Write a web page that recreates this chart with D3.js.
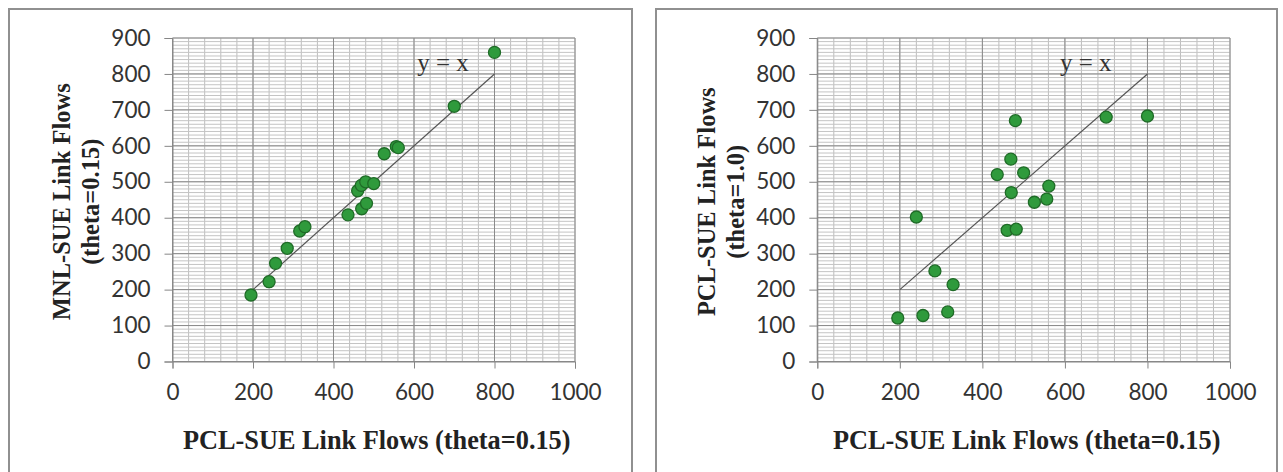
<!DOCTYPE html>
<html>
<head>
<meta charset="utf-8">
<script src="https://cdn.jsdelivr.net/npm/d3@7"></script>
<style>
  html, body { margin: 0; padding: 0; background: #fff; }
  svg { display: block; }
</style>
</head>
<body>
<svg id="chart" width="1283" height="472"></svg>
<script>
// ---- Data ----
const pclFlows015 = [195, 240, 256, 285, 316, 329, 436, 460, 469, 470, 480, 482, 500, 526, 556, 561, 700, 800];
const mnlFlows015 = [185, 222, 273, 315, 363, 375, 408, 475, 490, 425, 500, 440, 495, 578, 598, 595, 710, 860];
const pclFlows10  = [121, 402, 128, 252, 138, 214, 520, 365, 563, 470, 670, 368, 525, 443, 452, 488, 680, 683];
const refLine = [200, 800];
const xTicks = [0, 200, 400, 600, 800, 1000];
const yTicks = [0, 100, 200, 300, 400, 500, 600, 700, 800, 900];
const xTitle = "PCL-SUE Link Flows (theta=0.15)";
const yTitlesLeft = ["MNL-SUE Link Flows", "(theta=0.15)"];
const yTitlesRight = ["PCL-SUE Link Flows", "(theta=1.0)"];
const refLabel = "y = x";

const svg = d3.select("#chart");
svg.append("rect").attr("width", 1283).attr("height", 472).attr("fill", "#fff");

function panel(cfg) {
  const g = svg.append("g");
  // outer chart border
  g.append("rect")
    .attr("x", cfg.box[0]).attr("y", cfg.box[1])
    .attr("width", cfg.box[2]).attr("height", cfg.box[3])
    .attr("fill", "#fff").attr("stroke", "#909090").attr("stroke-width", 2);

  const x = d3.scaleLinear().domain([0, 1000]).range([cfg.plot[0], cfg.plot[1]]);
  const y = d3.scaleLinear().domain([0, 900]).range([cfg.plot[3], cfg.plot[2]]);

  // minor grid
  const grid = g.append("g");
  grid.selectAll("line.vminor").data(d3.range(0, 1001, 40)).join("line")
    .attr("x1", d => x(d)).attr("x2", d => x(d))
    .attr("y1", y(0)).attr("y2", y(900))
    .attr("stroke", "#bdbdbd").attr("stroke-width", 1);
  grid.selectAll("line.hminor").data(d3.range(0, 901, 10)).join("line")
    .attr("x1", x(0)).attr("x2", x(1000))
    .attr("y1", d => y(d)).attr("y2", d => y(d))
    .attr("stroke", "#c4c4c4").attr("stroke-width", 1);
  // major grid
  grid.selectAll("line.vmajor").data(xTicks).join("line")
    .attr("x1", d => x(d)).attr("x2", d => x(d))
    .attr("y1", y(0)).attr("y2", y(900))
    .attr("stroke", "#8a8a8a").attr("stroke-width", 1);
  grid.selectAll("line.hmajor").data(yTicks).join("line")
    .attr("x1", x(0)).attr("x2", x(1000))
    .attr("y1", d => y(d)).attr("y2", d => y(d))
    .attr("stroke", "#8a8a8a").attr("stroke-width", 1);

  // axes
  const xa = g.append("g").attr("transform", `translate(0,${y(0)})`)
    .call(d3.axisBottom(x).tickValues(xTicks).tickSize(7).tickPadding(16).tickFormat(d3.format("d")));
  const ya = g.append("g").attr("transform", `translate(${x(0)},0)`)
    .call(d3.axisLeft(y).tickValues(yTicks).tickSize(8).tickPadding(14).tickFormat(d3.format("d")));
  [xa, ya].forEach(a => {
    a.select(".domain").attr("stroke", "#868686");
    a.selectAll(".tick line").attr("stroke", "#868686");
    a.selectAll(".tick text")
      .attr("font-family", "Lato, 'Liberation Sans', sans-serif")
      .attr("font-size", 22.5).attr("fill", "#333");
  });

  // reference line y = x
  g.append("line")
    .attr("x1", x(refLine[0])).attr("y1", y(refLine[0]))
    .attr("x2", x(refLine[1])).attr("y2", y(refLine[1]))
    .attr("stroke", "#555").attr("stroke-width", 1.2);
  g.append("text")
    .attr("x", x(cfg.labelAt[0])).attr("y", y(cfg.labelAt[1]))
    .attr("font-family", "'Liberation Serif', serif").attr("font-size", 25)
    .attr("fill", "#333").text(refLabel);

  // points
  g.selectAll("circle").data(pclFlows015.map((v, i) => [v, cfg.yData[i]])).join("circle")
    .attr("cx", d => x(d[0])).attr("cy", d => y(d[1])).attr("r", 6)
    .attr("fill", "#2f9a3c").attr("stroke", "#1f6b27").attr("stroke-width", 1.3);

  // axis titles
  const cx = (cfg.plot[0] + cfg.plot[1]) / 2;
  g.append("text")
    .attr("x", cx + 3).attr("y", 449).attr("text-anchor", "middle")
    .attr("font-family", "'Liberation Serif', serif").attr("font-weight", "bold")
    .attr("font-size", 26.3).attr("fill", "#222").text(xTitle);
  const cy = (cfg.plot[2] + cfg.plot[3]) / 2;
  cfg.yTitles.forEach((t, i) => {
    const tx = cfg.plot[0] - 111 + i * 29;
    g.append("text")
      .attr("transform", `translate(${tx},${cy + 2}) rotate(-90)`)
      .attr("text-anchor", "middle").attr("dy", "0.35em")
      .attr("font-family", "'Liberation Serif', serif").attr("font-weight", "bold")
      .attr("font-size", 24.5).attr("fill", "#222").text(t);
  });
}

panel({
  box: [9, 9, 623, 480],
  plot: [172.5, 575, 38, 361.5],
  yData: mnlFlows015,
  yTitles: yTitlesLeft,
  labelAt: [608, 808]
});
panel({
  box: [656, 9, 621, 480],
  plot: [817.3, 1230, 38, 361.5],
  yData: pclFlows10,
  yTitles: yTitlesRight,
  labelAt: [588, 808]
});
</script>
</body>
</html>
